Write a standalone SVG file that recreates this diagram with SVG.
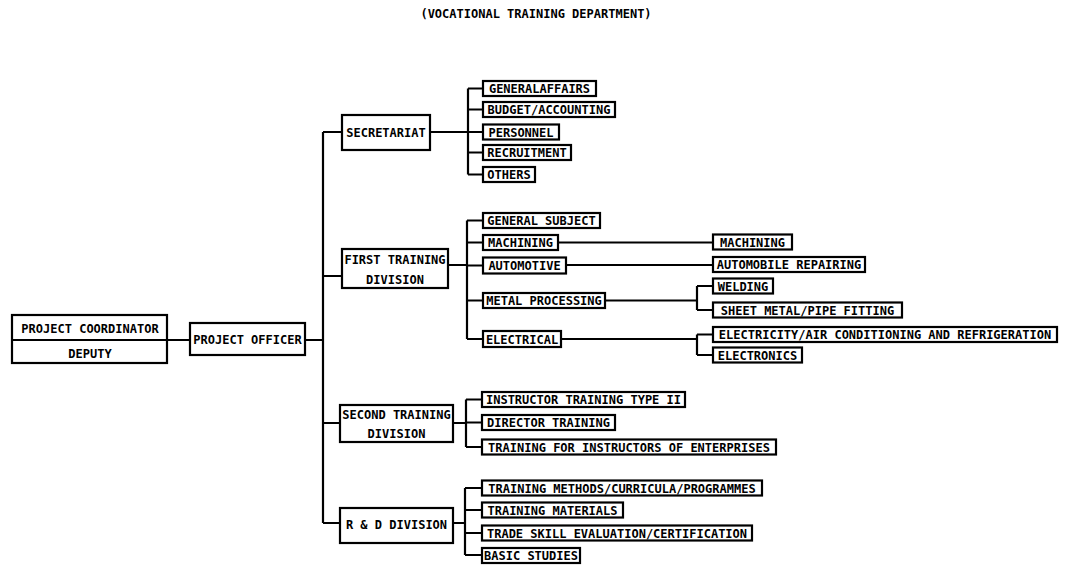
<svg xmlns="http://www.w3.org/2000/svg" width="1065" height="566" viewBox="0 0 1065 566">
  <style>
    .box { fill: #fff; stroke: #000; stroke-width: 2.2; }
    .t { font-family: "DejaVu Sans Mono", "Liberation Mono", monospace; font-weight: bold; font-size: 12px; fill: #000; text-anchor: middle; }
    .w { fill: none; stroke: #000; stroke-width: 2.2; }
  </style>
  <rect width="1065" height="566" fill="#fff"/>

  <text class="t" x="536" y="18">(VOCATIONAL TRAINING DEPARTMENT)</text>

  <!-- connectors -->
  <g id="connectors" class="w">
    <path d="M167 340 H190 M305 340 H323"/>
    <path d="M323 132 V523 M323 132 H342 M323 276 H342 M323 423 H340 M323 523 H340"/>
    <!-- secretariat branches -->
    <path d="M430 132 H468 M468 88.5 V174.5 M468 88.5 H483 M468 109.5 H483 M468 132 H483 M468 152.5 H483 M468 174.5 H483"/>
    <!-- first training division branches -->
    <path d="M448 265 H467 M467 220.5 V339 M467 220.5 H483 M467 242.5 H483 M467 265.5 H483 M467 300.5 H483 M467 339 H483"/>
    <path d="M558 242.5 H713 M566 265 H713"/>
    <path d="M605 300.5 H697 M697 286 V310 M697 286 H713 M697 310 H713"/>
    <path d="M561 339 H697 M697 334.5 V355 M697 334.5 H713 M697 355 H713"/>
    <!-- second training division branches -->
    <path d="M453 423 H466 M466 399.5 V447 M466 399.5 H482 M466 422.5 H482 M466 447 H482"/>
    <!-- R &amp; D division branches -->
    <path d="M453 523 H465 M465 488 V555 M465 488 H482 M465 510 H482 M465 533 H482 M465 555 H482"/>
  </g>

  <g id="project-coordinator">
    <rect class="box" x="12" y="315" width="155" height="48"/>
    <line class="w" x1="12" y1="340" x2="167" y2="340"/>
    <text class="t" x="90" y="333">PROJECT COORDINATOR</text>
    <text class="t" x="90" y="358">DEPUTY</text>
  </g>
  <g id="project-officer">
    <rect class="box" x="190" y="323" width="115" height="32"/>
    <text class="t" x="247.5" y="343.5">PROJECT OFFICER</text>
  </g>

  <g id="secretariat">
    <rect class="box" x="342" y="115" width="88" height="35"/>
    <text class="t" x="386" y="136.5">SECRETARIAT</text>
  </g>
  <g id="general-affairs"><rect class="box" x="483" y="81" width="113" height="15"/><text class="t" x="539.5" y="93">GENERALAFFAIRS</text></g>
  <g id="budget-accounting"><rect class="box" x="483" y="102" width="132" height="15"/><text class="t" x="549" y="114">BUDGET/ACCOUNTING</text></g>
  <g id="personnel"><rect class="box" x="483" y="124.5" width="76" height="15"/><text class="t" x="521" y="136.5">PERSONNEL</text></g>
  <g id="recruitment"><rect class="box" x="483" y="145" width="88" height="15"/><text class="t" x="527" y="157">RECRUITMENT</text></g>
  <g id="others"><rect class="box" x="483" y="167" width="52" height="15"/><text class="t" x="509" y="179">OTHERS</text></g>

  <g id="first-training-division">
    <rect class="box" x="342" y="249" width="106" height="39"/>
    <text class="t" x="395" y="264">FIRST TRAINING</text>
    <text class="t" x="395" y="284">DIVISION</text>
  </g>
  <g id="general-subject"><rect class="box" x="483" y="213" width="117" height="15"/><text class="t" x="541.5" y="225">GENERAL SUBJECT</text></g>
  <g id="machining"><rect class="box" x="483" y="235" width="75" height="15"/><text class="t" x="520.5" y="247">MACHINING</text></g>
  <g id="automotive"><rect class="box" x="483" y="257.5" width="83" height="16"/><text class="t" x="524.5" y="270">AUTOMOTIVE</text></g>
  <g id="metal-processing"><rect class="box" x="483" y="293" width="122" height="15"/><text class="t" x="544" y="305">METAL PROCESSING</text></g>
  <g id="electrical"><rect class="box" x="483" y="331" width="78" height="16"/><text class="t" x="522" y="343.5">ELECTRICAL</text></g>

  <g id="machining-2"><rect class="box" x="713" y="234.5" width="79" height="15"/><text class="t" x="752.5" y="246.5">MACHINING</text></g>
  <g id="automobile-repairing"><rect class="box" x="713" y="257" width="152" height="15"/><text class="t" x="789" y="269">AUTOMOBILE REPAIRING</text></g>
  <g id="welding"><rect class="box" x="713" y="278.5" width="60" height="15"/><text class="t" x="743" y="290.5">WELDING</text></g>
  <g id="sheet-metal"><rect class="box" x="713" y="302.5" width="189" height="15"/><text class="t" x="807.5" y="314.5">SHEET METAL/PIPE FITTING</text></g>
  <g id="electricity"><rect class="box" x="713" y="327" width="344" height="15"/><text class="t" x="885" y="339">ELECTRICITY/AIR CONDITIONING AND REFRIGERATION</text></g>
  <g id="electronics"><rect class="box" x="713" y="347.5" width="89" height="15"/><text class="t" x="757.5" y="359.5">ELECTRONICS</text></g>

  <g id="second-training-division">
    <rect class="box" x="340" y="405" width="113" height="37"/>
    <text class="t" x="396.5" y="419">SECOND TRAINING</text>
    <text class="t" x="396.5" y="438">DIVISION</text>
  </g>
  <g id="instructor-training"><rect class="box" x="482" y="392" width="203" height="15"/><text class="t" x="583.5" y="404">INSTRUCTOR TRAINING TYPE II</text></g>
  <g id="director-training"><rect class="box" x="482" y="415" width="133" height="15"/><text class="t" x="548.5" y="427">DIRECTOR TRAINING</text></g>
  <g id="enterprise-instructors"><rect class="box" x="482" y="439.5" width="294" height="15"/><text class="t" x="629" y="451.5">TRAINING FOR INSTRUCTORS OF ENTERPRISES</text></g>

  <g id="rd-division">
    <rect class="box" x="340" y="508" width="113" height="35"/>
    <text class="t" x="396.5" y="528.5">R &amp; D DIVISION</text>
  </g>
  <g id="training-methods"><rect class="box" x="482" y="480.5" width="280" height="15"/><text class="t" x="622" y="492.5">TRAINING METHODS/CURRICULA/PROGRAMMES</text></g>
  <g id="training-materials"><rect class="box" x="482" y="502.5" width="141" height="15"/><text class="t" x="552.5" y="514.5">TRAINING MATERIALS</text></g>
  <g id="trade-skill"><rect class="box" x="482" y="525.5" width="270" height="15"/><text class="t" x="617" y="537.5">TRADE SKILL EVALUATION/CERTIFICATION</text></g>
  <g id="basic-studies"><rect class="box" x="482" y="548" width="98" height="15"/><text class="t" x="531" y="560">BASIC STUDIES</text></g>
</svg>
